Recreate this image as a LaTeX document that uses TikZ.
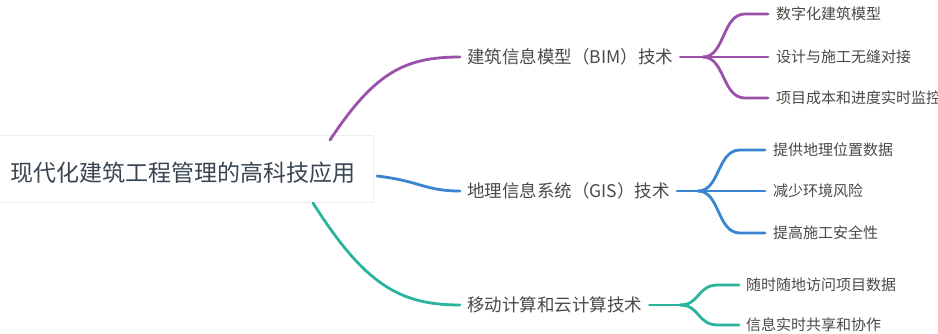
\documentclass[tikz,border=0pt]{standalone}
\usepackage{fontspec}
\setmainfont{Noto Sans CJK SC}
\definecolor{cpur}{HTML}{9B50AA}
\definecolor{cblu}{HTML}{3A84D2}
\definecolor{ctea}{HTML}{2AB49C}
\definecolor{ctxt}{HTML}{4A4A4A}
\definecolor{croot}{HTML}{3A4552}
\begin{document}
\begin{tikzpicture}[x=1pt,y=-1pt,
  rootlbl/.style={anchor=west,inner sep=0pt,font=\fontsize{23}{26}\selectfont,text=croot},
  lvlone/.style={anchor=west,inner sep=0pt,font=\fontsize{17.5}{20}\selectfont,text=ctxt},
  lvltwo/.style={anchor=west,inner sep=0pt,font=\fontsize{15}{18}\selectfont,text=ctxt},
  edge/.style={line width=2.8pt,line cap=round}]
\useasboundingbox (0,0) rectangle (938,333);
\fill[white] (0,0) rectangle (938,333);
% root box
\draw[black!7,fill=white,line width=0.8pt] (-3,135) rectangle (373,202);
\node[rootlbl] (root) at (10,173) {现代化建筑工程管理的高科技应用};
% level 1
\node[lvlone] (bim) at (467,57) {建筑信息模型（BIM）技术};
\node[lvlone] (gis) at (467,191) {地理信息系统（GIS）技术};
\node[lvlone] (mob) at (467,305) {移动计算和云计算技术};
% level 2
\node[lvltwo] (b1) at (776,14) {数字化建筑模型};
\node[lvltwo] (b2) at (776,57) {设计与施工无缝对接};
\node[lvltwo] (b3) at (776,98) {项目成本和进度实时监控};
\node[lvltwo] (g1) at (773,150) {提供地理位置数据};
\node[lvltwo] (g2) at (773,191) {减少环境风险};
\node[lvltwo] (g3) at (773,233) {提高施工安全性};
\node[lvltwo] (m1) at (746,285) {随时随地访问项目数据};
\node[lvltwo] (m2) at (746,325) {信息实时共享和协作};
% coordinates
\coordinate (rp) at (330,140);
\coordinate (rb) at (377,176);
\coordinate (rt) at (313,203);
\coordinate (bimj) at (703,57);
\coordinate (gisj) at (698,191);
\coordinate (mobj) at (680,305);
% root connectors
\draw[edge,cpur] (rp) .. controls (375,72) and (405,57) .. ([xshift=-7pt]bim.west);
\draw[edge,cblu] (rb) .. controls (420,181) and (425,191) .. ([xshift=-7pt]gis.west);
\draw[edge,ctea] (rt) .. controls (365,285) and (400,305) .. ([xshift=-7pt]mob.west);
% BIM children
\draw[edge,cpur] ([xshift=7pt]bim.east) -- (bimj);
\draw[edge,cpur] (bimj) .. controls (725,57) and (722,14) .. (745,14) -- ([xshift=-8pt]b1.west);
\draw[edge,cpur] (bimj) -- ([xshift=-8pt]b2.west);
\draw[edge,cpur] (bimj) .. controls (725,57) and (722,98) .. (745,98) -- ([xshift=-8pt]b3.west);
% GIS children
\draw[edge,cblu] ([xshift=7pt]gis.east) -- (gisj);
\draw[edge,cblu] (gisj) .. controls (720,191) and (717,150) .. (740,150) -- ([xshift=-8pt]g1.west);
\draw[edge,cblu] (gisj) -- ([xshift=-8pt]g2.west);
\draw[edge,cblu] (gisj) .. controls (720,191) and (717,233) .. (740,233) -- ([xshift=-8pt]g3.west);
% Mobile children
\draw[edge,ctea] ([xshift=7pt]mob.east) -- (mobj);
\draw[edge,ctea] (mobj) .. controls (700,305) and (697,285) .. (718,285) -- ([xshift=-7pt]m1.west);
\draw[edge,ctea] (mobj) .. controls (700,305) and (697,325) .. (718,325) -- ([xshift=-7pt]m2.west);
\end{tikzpicture}
\end{document}
